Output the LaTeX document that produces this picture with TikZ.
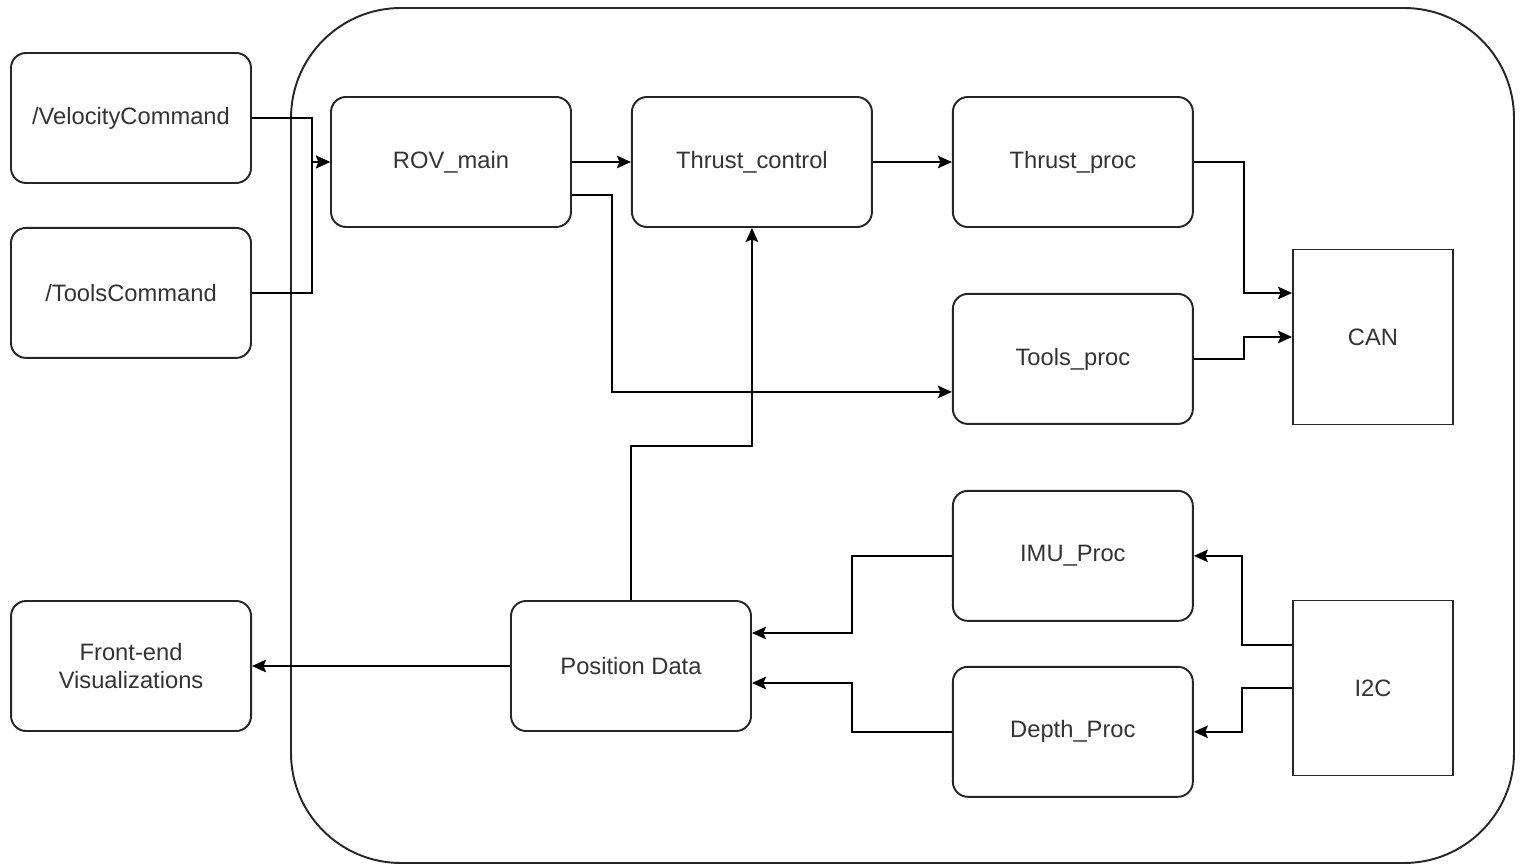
\documentclass[tikz,border=0pt]{standalone}
\usepackage{fontspec}
\setmainfont{Liberation Sans}
\usetikzlibrary{calc,positioning}
\usetikzlibrary{arrows.meta}

\begin{document}
\begin{tikzpicture}[line width=1.1pt,
  every node/.style={font=\fontsize{13.5}{16}\selectfont, text=black!80},
  proc/.style={draw=black!85, rounded corners=0.3cm, minimum width=4.8cm, minimum height=2.6cm, align=center},
  bus/.style={draw=black!85, minimum width=3.2cm, minimum height=3.5cm},
  arr/.style={-{Stealth[length=2.8mm,width=2.5mm,inset=0.5mm]}}]
\useasboundingbox (0,0) rectangle (30.44,-17.3);
\node[draw=black!85, rounded corners=2.2cm, minimum width=24.46cm, minimum height=17.1cm] (sys) at (18.05,-8.71) {};
% left side topics
\node[proc] (vel) at (2.62,-2.36) {/VelocityCommand};
\node[proc,below =0.86cm of vel] (toolcmd) {/ToolsCommand};
% inside the system
\node[proc] (rov) at (9.02,-3.24) {ROV\_main};
\node[proc,right =1.18cm of rov] (ctrl) {Thrust\_control};
\node[proc,right =1.58cm of ctrl] (tproc) {Thrust\_proc};
\node[proc,below =1.30cm of tproc] (toolp) {Tools\_proc};
\node[proc,below =1.30cm of toolp] (imu) {IMU\_Proc};
\node[proc,below =0.88cm of imu] (depth) {Depth\_Proc};
\node[proc] (pos) at (12.62,-13.32) {Position Data};
\node[proc,left =5.16cm of pos] (front) {Front-end\\Visualizations};
\node[bus] (can) at (27.46,-6.74) {CAN};
\node[bus] (i2c) at (27.46,-13.76) {I2C};
% connectors
\draw[arr] (vel.east) -- ++(1.2,0) |- (rov.west);
\draw[arr] (toolcmd.east) -- ++(1.2,0) |- (rov.west);
\draw[arr] (rov) -- (ctrl);
\draw[arr] (ctrl) -- (tproc);
\draw[arr] ($(rov.east)+(0,-0.66)$) -- ++(0.8,0) |- ($(toolp.west)+(0,-0.66)$);
\draw[arr] (tproc.east) -- ++(1.0,0) |- ($(can.west)+(0,0.88)$);
\draw[arr] (toolp.east) -- ++(1.0,0) |- (can.west);
\draw[arr] (pos.north) -- ++(0,3.08) -| (ctrl.south);
\draw[arr] (imu.west) -- ++(-2.0,0) |- ($(pos.east)+(0,0.66)$);
\draw[arr] (depth.west) -- ++(-2.0,0) |- ($(pos.east)+(0,-0.34)$);
\draw[arr] ($(i2c.west)+(0,0.86)$) -- ++(-1.0,0) |- (imu.east);
\draw[arr] (i2c.west) -- ++(-1.0,0) |- (depth.east);
\draw[arr] (pos) -- (front);
\end{tikzpicture}
\end{document}
